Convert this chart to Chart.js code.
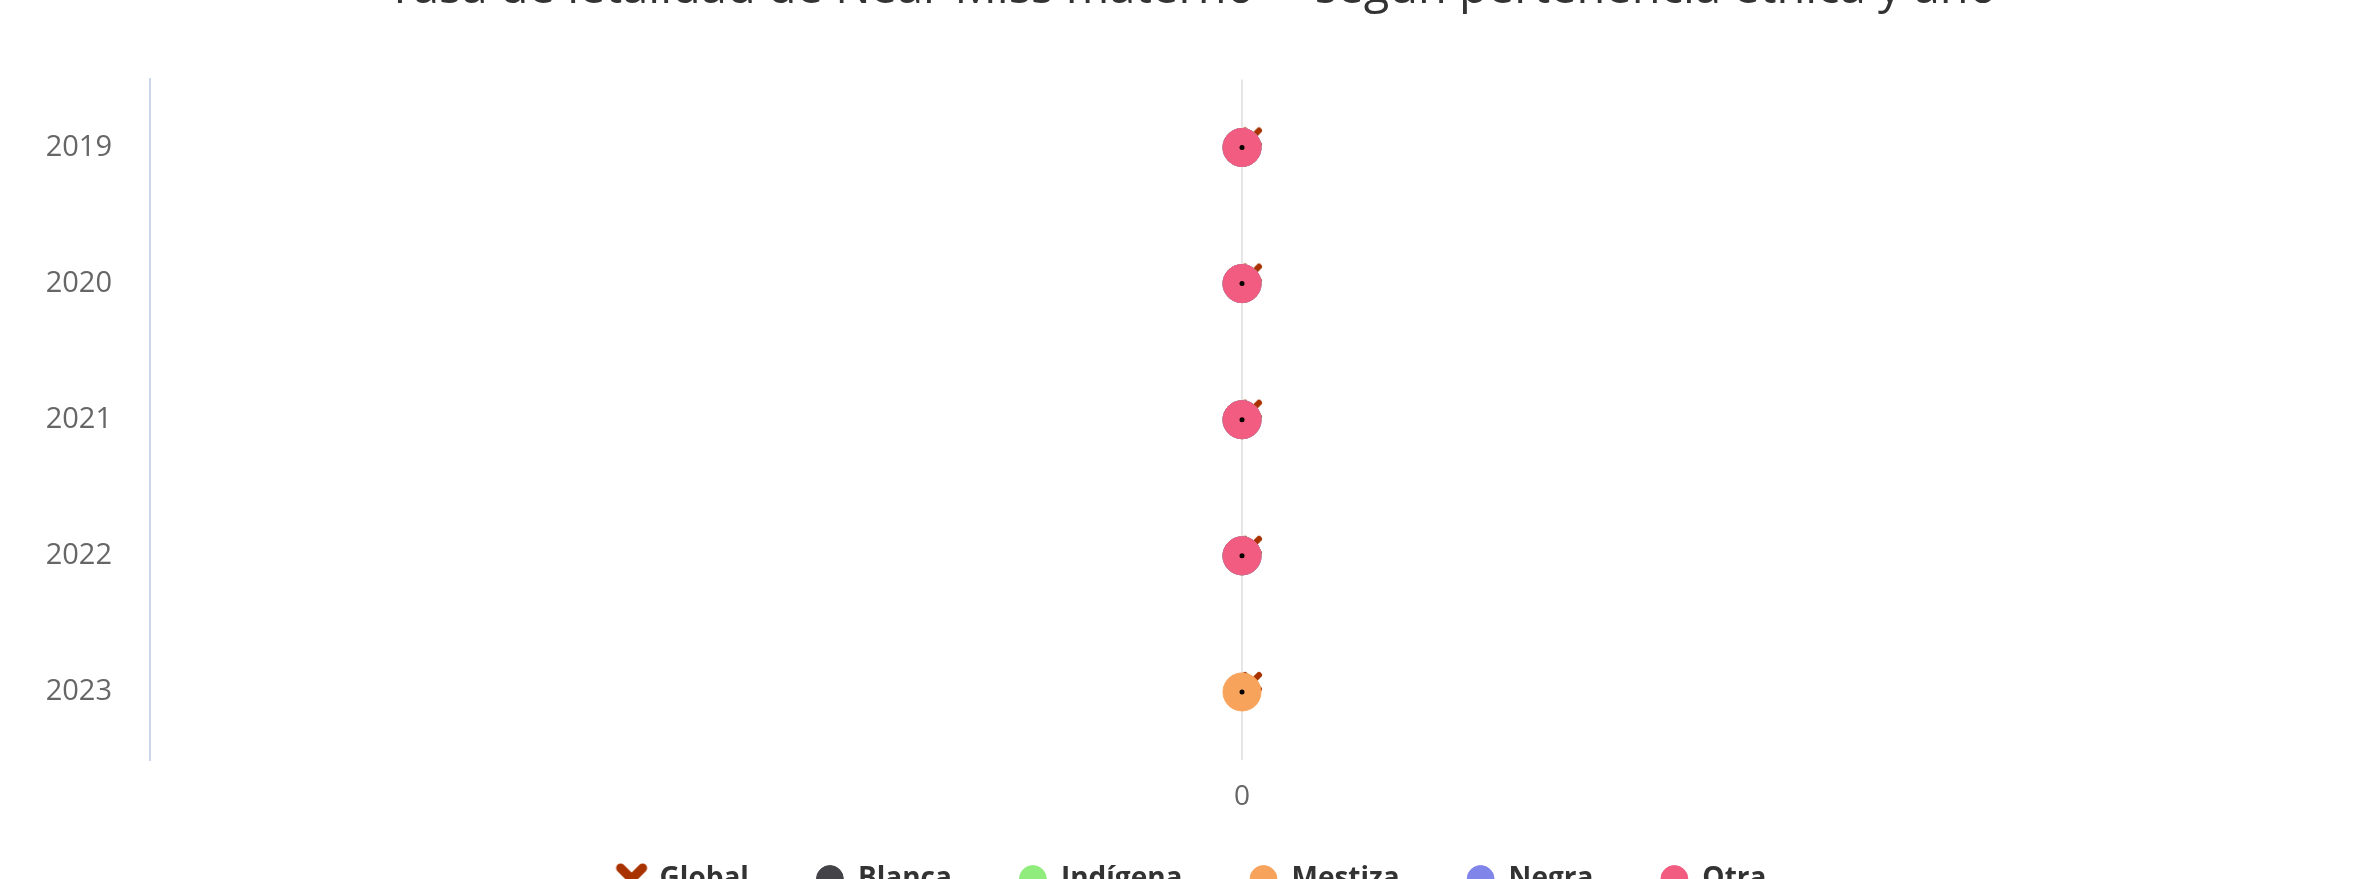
<!DOCTYPE html>
<html>
<head>
<meta charset="utf-8">
<script src="https://cdn.jsdelivr.net/npm/chart.js@4"></script>
<style>
  html, body { margin: 0; padding: 0; background: #ffffff; overflow: hidden; width: 2354px; height: 879px; }
  #wrap { position: absolute; left: 0; top: -50px; width: 2354px; height: 953px; }
</style>
</head>
<body>
<div id="wrap"><canvas id="c"></canvas></div>
<script>
const titleText = 'Tasa de letalidad de Near Miss materno  – según pertenencia étnica y año';
const years = ['2019', '2020', '2021', '2022', '2023'];
const xTickValues = [0];
const globalVals   = [0, 0, 0, 0, 0];
const blancaVals   = [0, 0, 0, 0, null];
const indigenaVals = [0, 0, 0, 0, null];
const mestizaVals  = [0, 0, 0, 0, 0];
const negraVals    = [0, 0, 0, 0, null];
const otraVals     = [0, 0, 0, 0, null];

function pts(vals) {
  const out = [];
  vals.forEach((v, i) => { if (v !== null) out.push({ x: v, y: years[i] }); });
  return out;
}

function makeCross(size, lw, dx, dy, arm, color) {
  const c = document.createElement('canvas');
  c.width = size; c.height = size;
  const g = c.getContext('2d');
  const cx = size / 2 + dx, cy = size / 2 + dy;
  g.strokeStyle = color; g.lineWidth = lw; g.lineCap = 'round';
  g.beginPath();
  g.moveTo(cx - arm, cy - arm); g.lineTo(cx + arm, cy + arm);
  g.moveTo(cx + arm, cy - arm); g.lineTo(cx - arm, cy + arm);
  g.stroke();
  return c;
}
const globalColor = '#a83200';
const plotCross = makeCross(60, 6, 10, -10, 7, globalColor);
const legendCross = makeCross(34, 9, 0, 0, 11, globalColor);

const R = 19;
function circleSet(label, vals, color, order) {
  return {
    label, data: pts(vals), order,
    showLine: false, pointStyle: 'circle',
    pointRadius: R, pointHoverRadius: R,
    backgroundColor: color, borderColor: color, borderWidth: 1
  };
}

const datasets = [
  { label: 'Global', data: pts(globalVals), order: 7, showLine: false,
    pointStyle: plotCross, pointRadius: 10, backgroundColor: globalColor, borderColor: globalColor },
  circleSet('Blanca', blancaVals, '#434348', 6),
  circleSet('Indígena', indigenaVals, '#90ed7d', 5),
  circleSet('Mestiza', mestizaVals, '#f7a35c', 4),
  circleSet('Negra', negraVals, '#8085e9', 3),
  circleSet('Otra', otraVals, '#f15c80', 2),
  { label: '', data: pts(globalVals), order: 0, showLine: false, pointStyle: 'circle',
    pointRadius: 2.5, backgroundColor: '#000000', borderColor: '#000000', borderWidth: 0 }
];

new Chart(document.getElementById('c'), {
  type: 'line',
  data: { datasets },
  options: {
    responsive: true,
    maintainAspectRatio: false,
    animation: false,
    events: [],
    layout: { padding: { left: 44, right: 14, top: 0, bottom: 0 } },
    plugins: {
      tooltip: { enabled: false },
      title: {
        display: true, text: titleText, color: '#333333',
        font: { family: 'Open Sans', size: 47, weight: 'normal', lineHeight: 1.2 },
        padding: { top: 11, bottom: 62 }
      },
      legend: {
        display: true, position: 'bottom',
        labels: {
          usePointStyle: true, boxHeight: 19, padding: 67, color: '#333333',
          font: { family: 'Open Sans', size: 28, weight: 'bold' },
          filter: (item) => item.text !== '',
          sort: (a, b) => a.datasetIndex - b.datasetIndex,
          generateLabels: (chart) => {
            const items = Chart.defaults.plugins.legend.labels.generateLabels(chart);
            items.forEach(it => { if (it.text === 'Global') it.pointStyle = legendCross; });
            return items;
          }
        }
      }
    },
    scales: {
      x: {
        type: 'linear', min: -1, max: 1,
        afterBuildTicks: (s) => { s.ticks = xTickValues.map(v => ({ value: v })); },
        afterFit: (s) => {
          s.height = 38; s.paddingLeft = 0; s.paddingRight = 0;
          s._computeLabelArea = () => undefined;
        },
        grid: { display: true, color: '#e6e6e6', lineWidth: 2, drawTicks: false },
        border: { display: false },
        ticks: { padding: 20, color: '#666666', font: { family: 'Open Sans', size: 28 } }
      },
      y: {
        type: 'category', labels: years, offset: true,
        afterFit: (s) => { s.width = 106; },
        grid: { display: false, drawTicks: false },
        border: { display: true, color: '#ccd6eb', width: 2 },
        ticks: { padding: 38, color: '#666666', font: { family: 'Open Sans', size: 29 } }
      }
    }
  }
});
</script>
</body>
</html>
